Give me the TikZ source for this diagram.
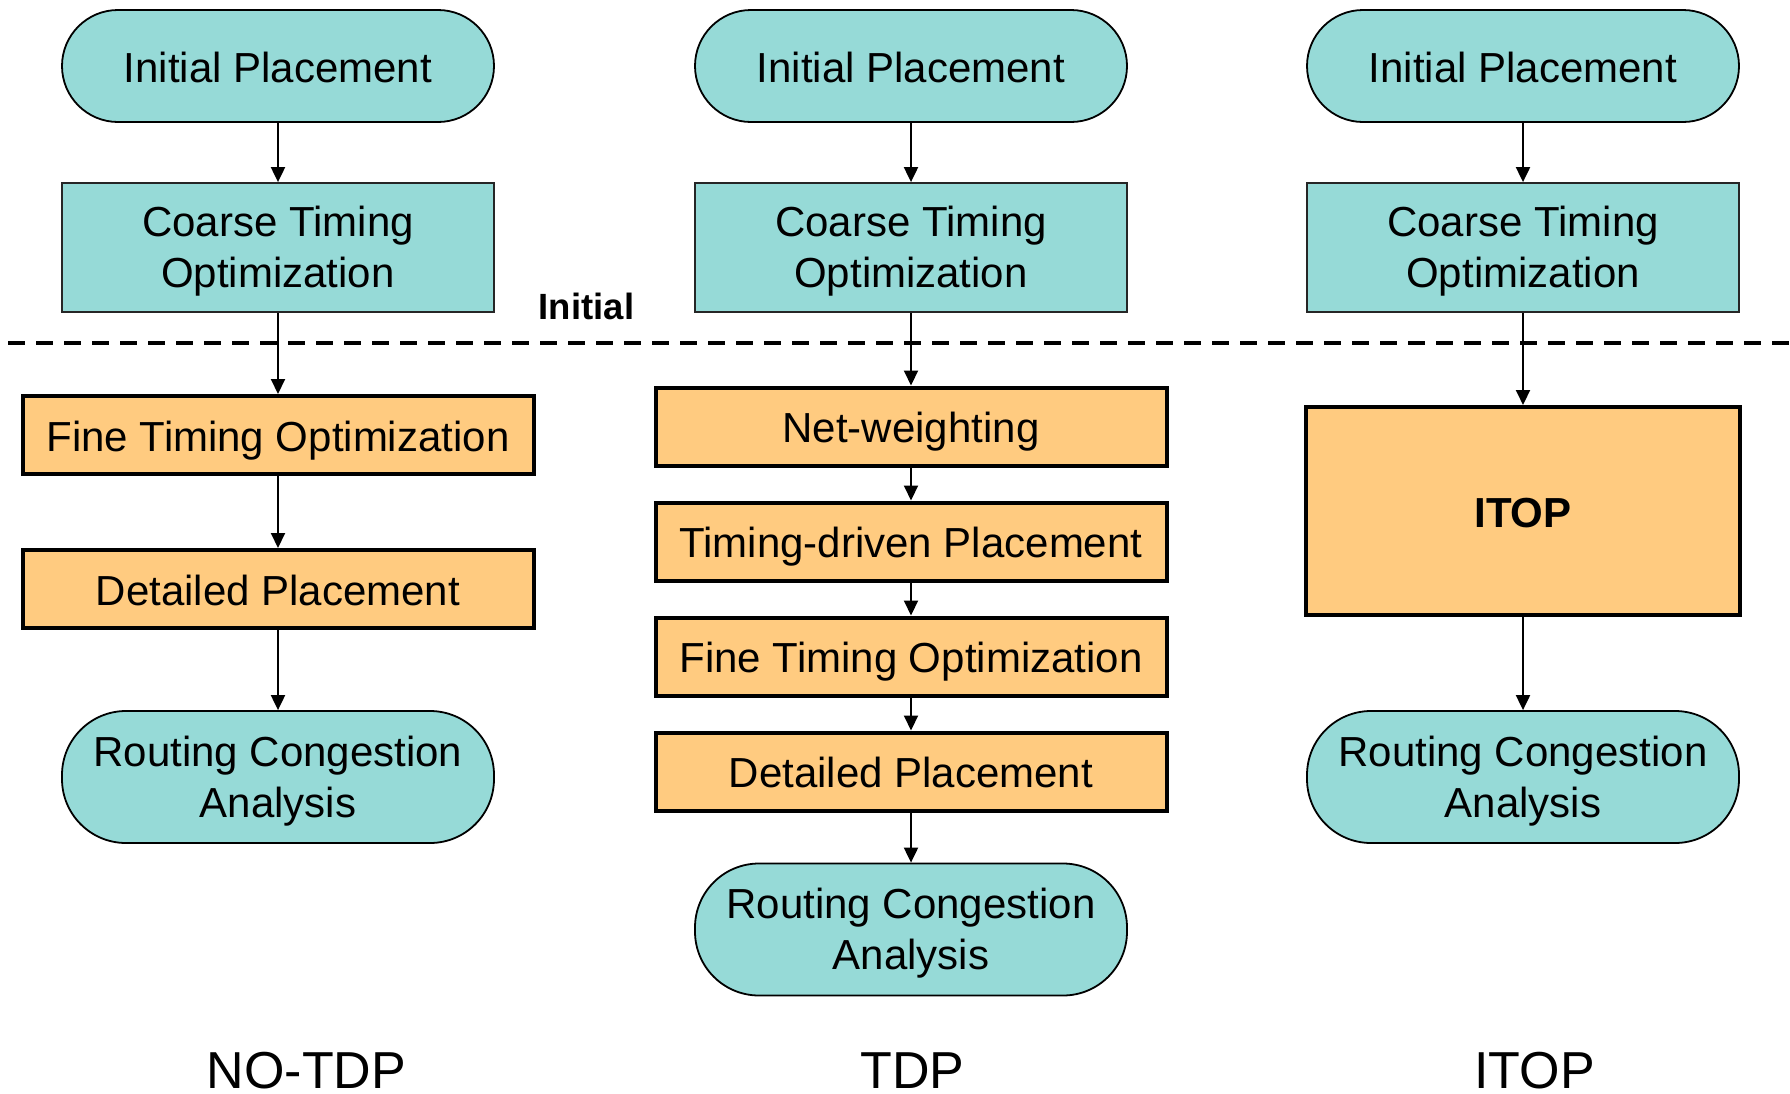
\documentclass[tikz,border=0pt]{standalone}
\usepackage{fontspec}
\setmainfont{Liberation Sans}
\usetikzlibrary{arrows.meta}
\definecolor{tealfill}{RGB}{150,218,215}
\definecolor{orangefill}{RGB}{255,203,128}
\begin{document}
\begin{tikzpicture}[x=1pt,y=-1pt,
  base/.style={font=\fontsize{42}{51}\selectfont, align=center, inner sep=0pt},
  one/.style={text height=32pt, text depth=0pt},
  two/.style={text height=80pt, text depth=0pt},
  term/.style={base, draw=black, line width=1.8pt, fill=tealfill, minimum width=432pt, minimum height=112pt, rounded corners=56pt},
  coarse/.style={base, two, draw=black!85, line width=1.8pt, fill=tealfill, minimum width=432pt, minimum height=129pt},
  proc/.style={base, one, draw=black, line width=4pt, fill=orangefill, minimum width=511pt, minimum height=78pt},
  arr/.style={line width=2pt, -{Triangle[length=15pt,width=14pt]}},
  caption/.style={font=\fontsize{52}{60}\selectfont, inner sep=0pt, anchor=base},
  dashline/.style={line width=4.5pt, dash pattern=on 16.5pt off 11.5pt}
]
\useasboundingbox (0,0) rectangle (1790,1093);
\fill[white] (0,0) rectangle (1790,1093);

% dashed separator
\coordinate (dl) at (8,343);
\coordinate (dr) at (1790,343);
\draw[dashline] (dl) -- (dr);
\node[anchor=base, inner sep=0pt, font=\bfseries\fontsize{36.5}{40}\selectfont] (initlbl) at (586.5,319) {Initial};

% column 1: NO-TDP
\node[term, one] (ip1) at (278,66) {Initial Placement};
\node[coarse] (ct1) at (278,247.5) {Coarse Timing\\Optimization};
\node[proc] (ft1) at (278,435) {Fine Timing Optimization};
\node[proc] (dp1) at (278,589) {Detailed Placement};
\node[term, two, minimum height=132pt, rounded corners=64pt] (rc1) at (278,777) {Routing Congestion\\Analysis};
\draw[arr] (ip1) -- (ct1);
\draw[arr] (ct1) -- (ft1);
\draw[arr] (ft1) -- (dp1);
\draw[arr] (dp1) -- (rc1);
\node[caption] (lbl1) at (306.5,1088) {NO-TDP};

% column 2: TDP
\node[term, one] (ip2) at (911,66) {Initial Placement};
\node[coarse] (ct2) at (911,247.5) {Coarse Timing\\Optimization};
\node[proc] (nw2) at (911,426.5) {Net-weighting};
\node[proc] (td2) at (911,541.5) {Timing-driven Placement};
\node[proc] (ft2) at (911,656.5) {Fine Timing Optimization};
\node[proc] (dp2) at (911,771.5) {Detailed Placement};
\node[term, two, minimum height=132pt, rounded corners=64pt] (rc2) at (911,929.5) {Routing Congestion\\Analysis};
\draw[arr] (ip2) -- (ct2);
\draw[arr] (ct2) -- (nw2);
\draw[arr] (nw2) -- (td2);
\draw[arr] (td2) -- (ft2);
\draw[arr] (ft2) -- (dp2);
\draw[arr] (dp2) -- (rc2);
\node[caption] (lbl2) at (912.5,1088) {TDP};

% column 3: ITOP
\node[term, one] (ip3) at (1523,66) {Initial Placement};
\node[coarse] (ct3) at (1523,247.5) {Coarse Timing\\Optimization};
\node[proc, minimum width=434pt, minimum height=208pt, font=\bfseries\fontsize{42}{51}\selectfont] (it3) at (1523,511) {ITOP};
\node[term, two, minimum height=132pt, rounded corners=64pt] (rc3) at (1523,777) {Routing Congestion\\Analysis};
\draw[arr] (ip3) -- (ct3);
\draw[arr] (ct3) -- (it3);
\draw[arr] (it3) -- (rc3);
\node[caption] (lbl3) at (1534.5,1088) {ITOP};
\end{tikzpicture}
\end{document}
